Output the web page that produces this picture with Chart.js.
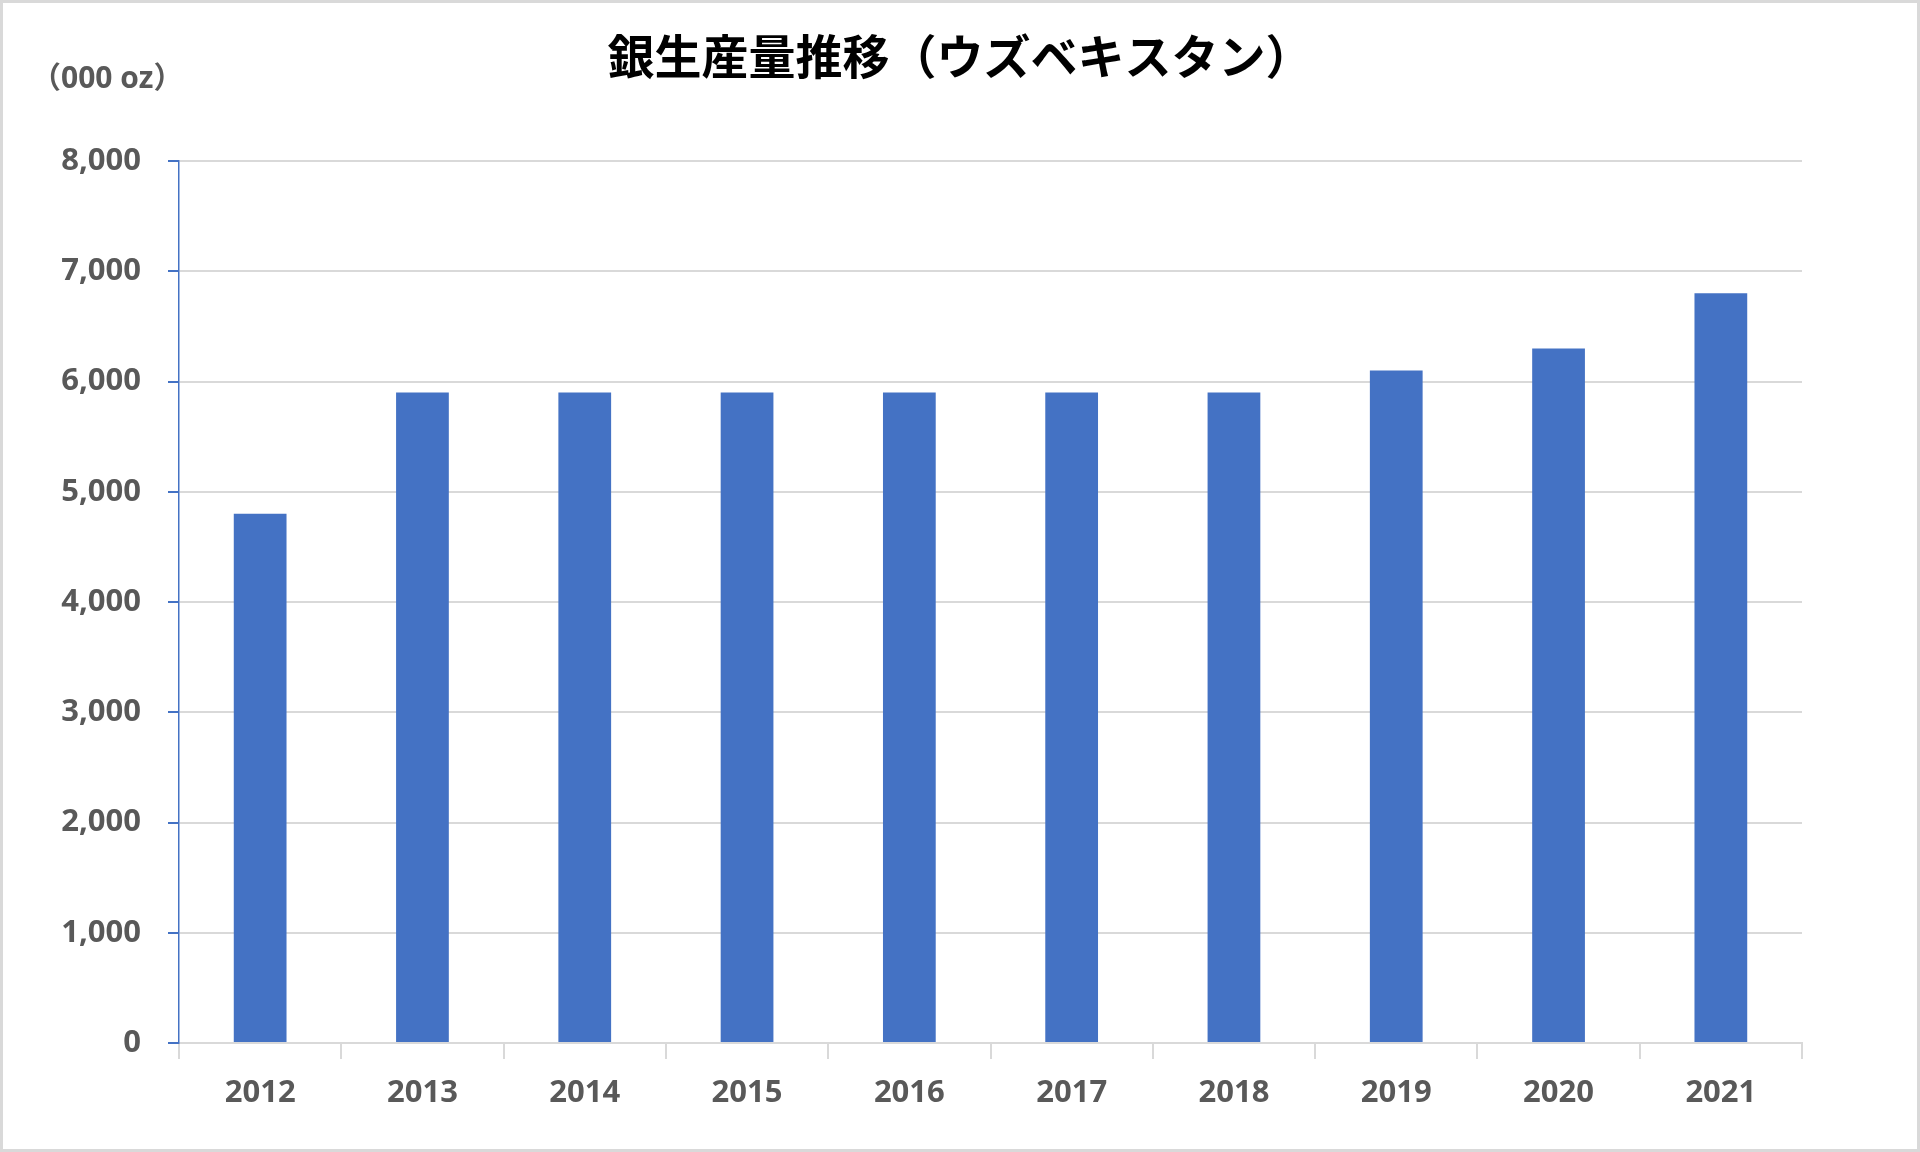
<!DOCTYPE html>
<html>
<head>
<meta charset="utf-8">
<script src="https://cdn.jsdelivr.net/npm/chart.js@4/dist/chart.umd.min.js"></script>
<style>
  html, body { margin: 0; padding: 0; background: #fff; }
  #wrap { width: 1920px; height: 1152px; position: relative; }
</style>
</head>
<body>
<div id="wrap"><canvas id="myChart" width="1920" height="1152"></canvas></div>
<script>
const years = ['2012', '2013', '2014', '2015', '2016', '2017', '2018', '2019', '2020', '2021'];
const silverOutput = [4800, 5900, 5900, 5900, 5900, 5900, 5900, 6100, 6300, 6800];
const yTicks = [0, 1000, 2000, 3000, 4000, 5000, 6000, 7000, 8000];
const titleText = '銀生産量推移（ウズベキスタン）';
const unitText = '（000 oz）';

const labelFont = '"Open Sans", "Noto Sans CJK JP", sans-serif';

// title, unit label and the outer frame
const extras = {
    id: 'extras',
    afterDraw(chart) {
        const c = chart.ctx;
        c.save();
        c.strokeStyle = '#d9d9d9';
        c.lineWidth = 3;
        c.strokeRect(1.5, 1.5, chart.width - 3, chart.height - 3);

        c.fillStyle = '#000';
        c.font = 'bold 47px "Noto Sans CJK JP", sans-serif';
        c.textAlign = 'center';
        c.textBaseline = 'middle';
        c.fillText(titleText, 960, 56);

        c.fillStyle = '#595959';
        c.font = 'bold 30px ' + labelFont;
        c.textAlign = 'left';
        c.fillText(unitText, 31, 79);
        c.restore();
    }
};

const ctx = document.getElementById('myChart').getContext('2d');

new Chart(ctx, {
    type: 'bar',
    data: {
        labels: years,
        datasets: [{
            label: 'Silver',
            data: silverOutput,
            backgroundColor: '#4472C4',
            barPercentage: 0.325,
            categoryPercentage: 1
        }]
    },
    options: {
        responsive: false,
        animation: false,
        layout: { padding: { top: 161, right: 118, left: 0, bottom: 0 } },
        plugins: {
            legend: { display: false },
            tooltip: { enabled: false }
        },
        scales: {
            x: {
                grid: {
                    display: true,
                    drawOnChartArea: false,
                    color: '#d9d9d9',
                    tickLength: 16,
                    lineWidth: 2
                },
                border: { color: '#d9d9d9', width: 2 },
                ticks: {
                    color: '#595959',
                    padding: 16,
                    font: { family: labelFont, size: 31, weight: 'bold' }
                },
                afterFit(scale) { scale.height = 109; }
            },
            y: {
                min: 0,
                max: 8000,
                afterBuildTicks(scale) {
                    scale.ticks = yTicks.map(v => ({ value: v }));
                },
                grid: {
                    color: '#d9d9d9',
                    tickColor: '#4472C4',
                    tickLength: 11,
                    lineWidth: 2
                },
                border: { color: '#4472C4', width: 1.5 },
                ticks: {
                    color: '#595959',
                    padding: 27,
                    font: { family: labelFont, size: 31, weight: 'bold' },
                    callback: v => v.toLocaleString('en-US')
                },
                afterFit(scale) { scale.width = 179; }
            }
        }
    },
    plugins: [extras]
});
</script>
</body>
</html>
